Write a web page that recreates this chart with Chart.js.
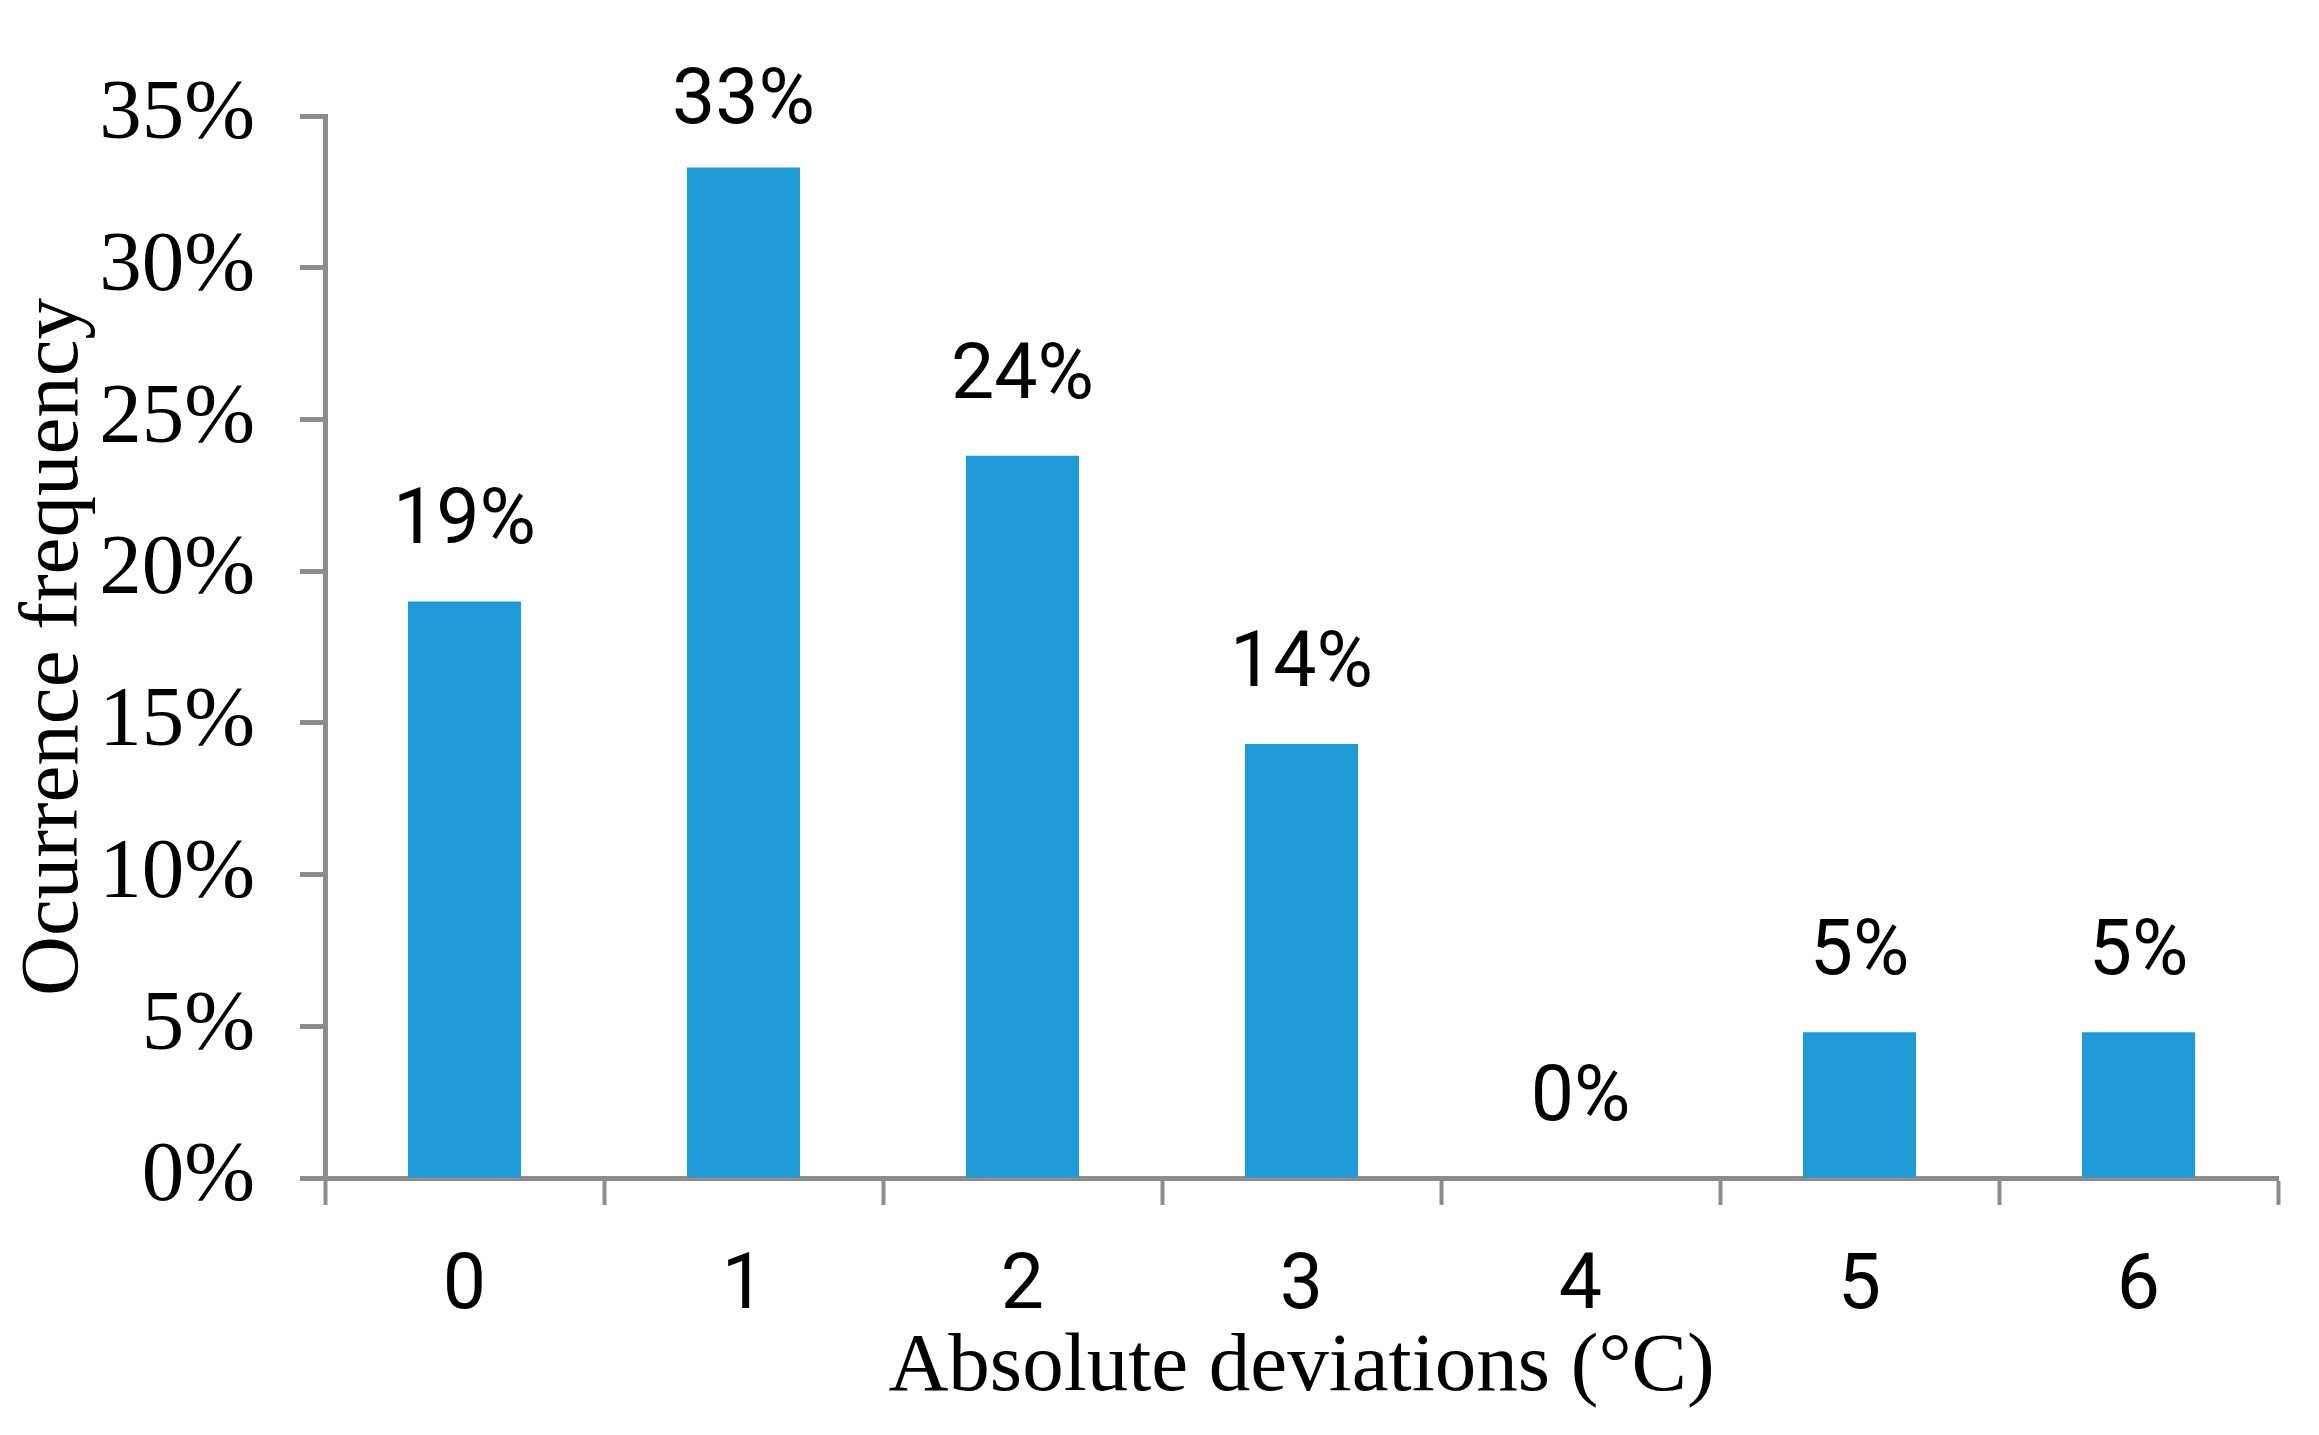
<!DOCTYPE html>
<html>
<head>
<meta charset="utf-8">
<script src="https://cdn.jsdelivr.net/npm/chart.js@4.4.1/dist/chart.umd.min.js"></script>
<style>
  html, body { margin: 0; padding: 0; background: #ffffff; }
  #wrap { width: 2319px; height: 1435px; }
</style>
</head>
<body>
<div id="wrap"><canvas id="c" width="2319" height="1435"></canvas></div>
<script>
// ---- data ----
const categories = ["0", "1", "2", "3", "4", "5", "6"];
const frequencyValues = [19.0, 33.3, 23.8, 14.3, 0, 4.8, 4.8];
const yTickValues = [0, 5, 10, 15, 20, 25, 30, 35];
const xAxisTitle = "Absolute deviations (°C)";
const yAxisTitle = "Ocurrence frequency";

const AXIS_GRAY = "#8C8C8C";
const BAR_BLUE = "#1E9BD7";
const SERIF = "'Liberation Serif', 'Times New Roman', serif";
const SANS = "Roboto, 'Open Sans', sans-serif";

const valueLabelPlugin = {
  id: "valueLabels",
  afterDatasetsDraw(chart) {
    const ctx = chart.ctx;
    const meta = chart.getDatasetMeta(0);
    ctx.save();
    ctx.font = "77px " + SANS;
    ctx.fillStyle = "#000000";
    ctx.textAlign = "center";
    ctx.textBaseline = "alphabetic";
    meta.data.forEach((bar, i) => {
      const v = frequencyValues[i];
      const txt = Math.round(v) + "%";
      // label sits above the bar, kept inside the figure near the top
      const y = Math.max(bar.y - 58, 123);
      ctx.fillText(txt, bar.x, y);
    });
    ctx.restore();
  }
};

new Chart(document.getElementById("c"), {
  type: "bar",
  data: {
    labels: categories,
    datasets: [{
      data: frequencyValues,
      backgroundColor: BAR_BLUE,
      borderWidth: 0,
      categoryPercentage: 1.0,
      barPercentage: 0.405
    }]
  },
  options: {
    responsive: false,
    animation: false,
    devicePixelRatio: 1,
    layout: { padding: { top: 116, right: 41, bottom: 0, left: 0 } },
    plugins: { legend: { display: false }, tooltip: { enabled: false } },
    scales: {
      x: {
        type: "category",
        offset: true,
        grid: {
          offset: true,
          drawOnChartArea: false,
          drawTicks: true,
          tickLength: 27,
          tickWidth: 4,
          tickColor: AXIS_GRAY
        },
        border: { display: true, color: AXIS_GRAY, width: 5 },
        ticks: {
          font: { family: SANS, size: 77 },
          color: "#000000",
          padding: 38
        },
        title: {
          display: true,
          text: xAxisTitle,
          font: { family: SERIF, size: 83 },
          color: "#000000",
          padding: { top: 0, bottom: 17 }
        },
        afterFit(scale) { scale.height = 257; }
      },
      y: {
        min: 0,
        max: 35,
        afterBuildTicks(scale) {
          scale.ticks = yTickValues.map(v => ({ value: v }));
        },
        grid: {
          drawOnChartArea: false,
          drawTicks: true,
          tickLength: 25,
          tickWidth: 5,
          tickColor: AXIS_GRAY
        },
        border: { display: true, color: AXIS_GRAY, width: 5 },
        ticks: {
          font: { family: SERIF, size: 85 },
          color: "#000000",
          padding: 45,
          callback: v => v + "%"
        },
        title: {
          display: true,
          text: yAxisTitle,
          font: { family: SERIF, size: 83 },
          color: "#000000",
          padding: { top: 5, bottom: 0 }
        },
        afterFit(scale) { scale.width = 325; }
      }
    }
  },
  plugins: [valueLabelPlugin]
});
</script>
</body>
</html>
